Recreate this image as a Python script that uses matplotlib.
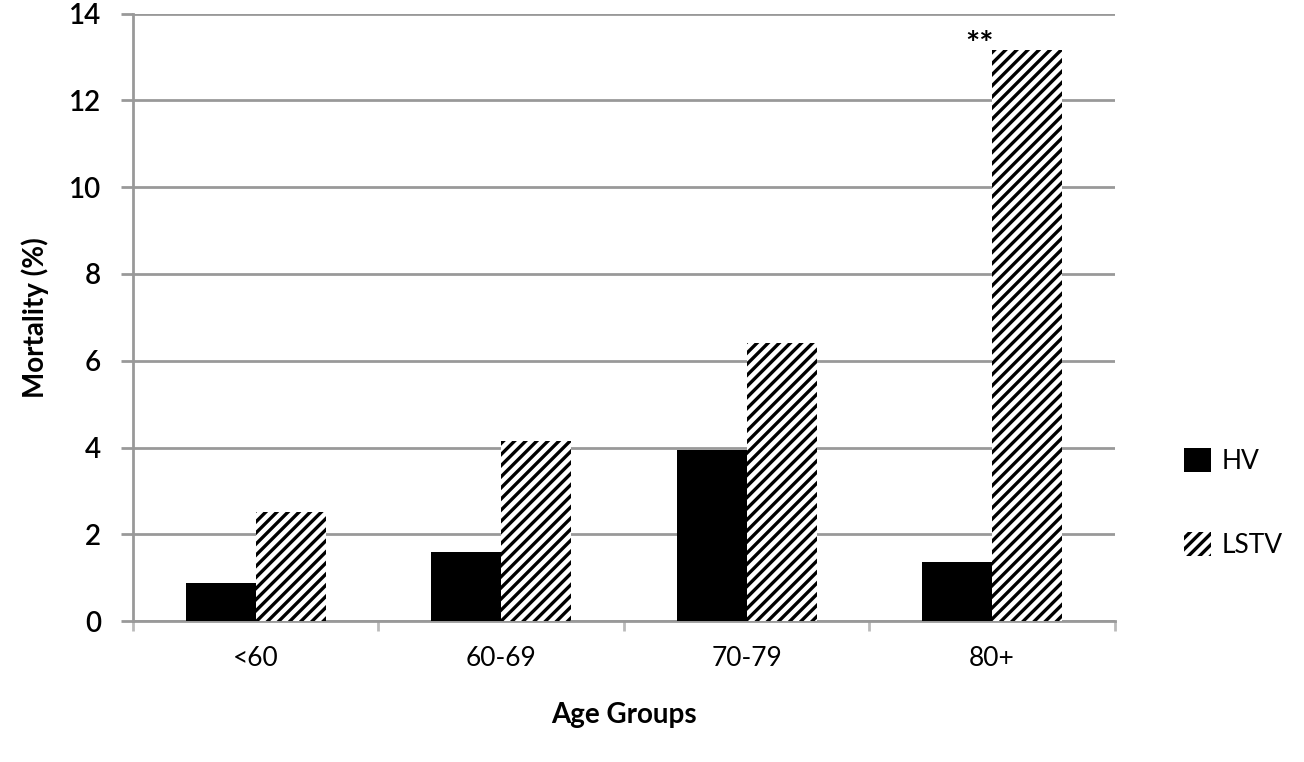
import matplotlib.pyplot as plt
import numpy as np

# Data
ageGroups = ["<60", "60-69", "70-79", "80+"]
hvValues = [0.87, 1.6, 3.94, 1.37]
lstvValues = [2.52, 4.14, 6.4, 13.17]
yTicks = [0, 2, 4, 6, 8, 10, 12, 14]

plt.rcParams["font.family"] = ["Lato", "DejaVu Sans"]
plt.rcParams["hatch.linewidth"] = 2.4

fig = plt.figure(figsize=(13.04, 7.62), dpi=100)
ax = fig.add_axes([0.102, 0.185, 0.753, 0.797])

x = np.arange(len(ageGroups))
barWidth = 0.285

ax.bar(x - barWidth / 2, hvValues, barWidth, color="black", label="HV", zorder=3)
ax.bar(x + barWidth / 2, lstvValues, barWidth, color="white", edgecolor="black",
       linewidth=0, hatch="///", label="LSTV", zorder=3)

# Significance marker above the 80+ group
ax.text(3 - 0.05, 13.05, "**", ha="center", va="baseline", fontsize=24, fontweight="bold")

ax.set_xlim(-0.5, 3.5)
ax.set_ylim(0, 14)
ax.set_yticks(yTicks)
ax.set_yticklabels([str(t) for t in yTicks], fontsize=20, fontweight="semibold")
ax.set_xticks(x)
ax.set_xticklabels(ageGroups, fontsize=19)
ax.tick_params(axis="x", length=0, pad=18)
ax.tick_params(axis="y", length=9, width=2, color="#999999", pad=14)

# small tick marks between categories on the x axis
ax.set_xticks(np.arange(-0.5, 4.0, 1.0), minor=True)
ax.tick_params(axis="x", which="minor", length=7, width=2, color="#bbbbbb")

ax.grid(axis="y", color="#999999", linewidth=2, zorder=0)
for side in ["top", "right"]:
    ax.spines[side].set_visible(False)
ax.spines["left"].set_color("#999999")
ax.spines["left"].set_linewidth(2)
ax.spines["bottom"].set_color("#999999")
ax.spines["bottom"].set_linewidth(2)

ax.set_ylabel("Mortality (%)", fontsize=20, fontweight="bold", labelpad=14)
ax.set_xlabel("Age Groups", fontsize=20, fontweight="bold", labelpad=22)

fig.legend(loc="center left", bbox_to_anchor=(0.89, 0.34), frameon=False,
           fontsize=19, handlelength=1.0, handleheight=1.0, labelspacing=2.2,
           handletextpad=0.4)

plt.savefig("out.png", dpi=100)
